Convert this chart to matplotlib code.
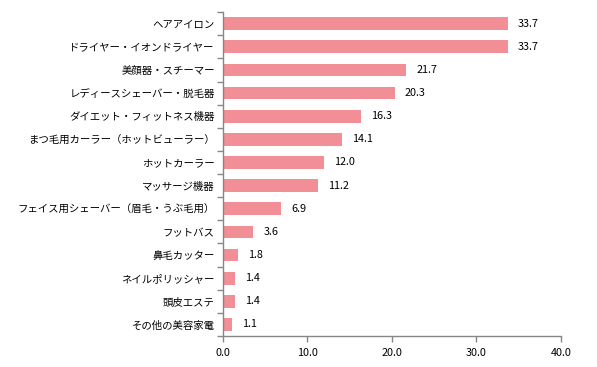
import numpy as np
import matplotlib
matplotlib.use("Agg")
import matplotlib.pyplot as plt

plt.rcParams['font.family'] = ['Noto Sans CJK JP', 'DejaVu Sans']

# data, top to bottom as in the chart
categories = ["ヘアアイロン", "ドライヤー・イオンドライヤー", "美顔器・スチーマー",
              "レディースシェーバー・脱毛器", "ダイエット・フィットネス機器",
              "まつ毛用カーラー（ホットビューラー）", "ホットカーラー", "マッサージ機器",
              "フェイス用シェーバー（眉毛・うぶ毛用）", "フットバス", "鼻毛カッター",
              "ネイルポリッシャー", "頭皮エステ", "その他の美容家電"]
values = [33.7, 33.7, 21.7, 20.3, 16.3, 14.1, 12.0, 11.2, 6.9, 3.6, 1.8, 1.4, 1.4, 1.1]
xticks = [0, 10, 20, 30, 40]

bar_color = "#F28E96"
axis_color = "#868686"

fig = plt.figure(figsize=(5.97, 3.67), dpi=100)
ax = fig.add_axes([0.3735, 0.0845, 0.5662, 0.8825])

y = np.arange(len(categories))
ax.barh(y, values, height=0.55, color=bar_color)
for yi, v in zip(y, values):
    ax.text(v + 1.2, yi, f"{v:.1f}", va="center", ha="left", fontsize=7.8)

ax.set_xlim(0, 40)
ax.set_ylim(len(categories) - 0.5, -0.5)
ax.set_xticks(xticks)
ax.set_xticklabels([f"{t:.1f}" for t in xticks], fontsize=7.8)
ax.set_yticks(y)
ax.set_yticklabels(categories, fontsize=7.5)
ax.set_yticks(np.arange(len(categories) + 1) - 0.5, minor=True)
ax.tick_params(axis="y", which="major", length=0, pad=6)
ax.tick_params(axis="y", which="minor", length=4, color=axis_color, width=1)
ax.tick_params(axis="x", length=4, color=axis_color, width=1, pad=5)

for s in ["top", "right"]:
    ax.spines[s].set_visible(False)
for s in ["left", "bottom"]:
    ax.spines[s].set_color(axis_color)
    ax.spines[s].set_linewidth(1)

fig.savefig("out.png", dpi=100)
